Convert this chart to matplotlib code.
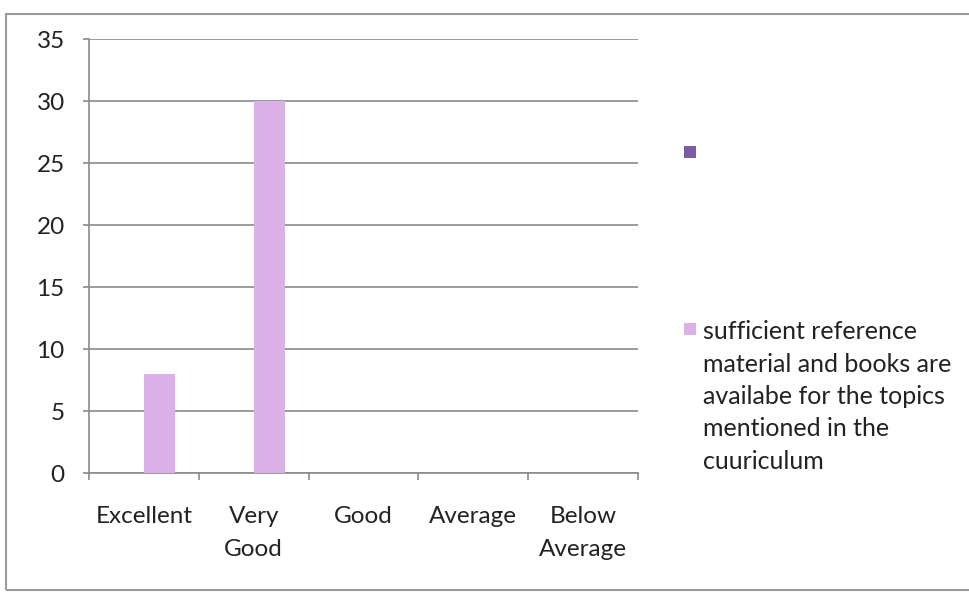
import matplotlib
matplotlib.use("Agg")
import matplotlib.pyplot as plt
from matplotlib.patches import Rectangle
import numpy as np

categories = ["Excellent", "Very\nGood", "Good", "Average", "Below\nAverage"]
series1_name = ""
series1_values = [0, 0, 0, 0, 0]
series2_name = ("sufficient reference\nmaterial and books are\navailabe for the topics\n"
                "mentioned in the\ncuuriculum")
series2_values = [8, 30, 0, 0, 0]
yticks = [0, 5, 10, 15, 20, 25, 30, 35]

plt.rcParams['font.family'] = ['Lato', 'DejaVu Sans']
FS = 17.5
LFS = 18
TXT = "#222222"
GRID = "#8a8a8a"
C1 = "#7b5aa6"
C2 = "#dbb0e6"

fig = plt.figure(figsize=(9.69, 5.92), dpi=100)
W, H = 969, 592
ax = fig.add_axes([89 / W, 1 - 473 / H, (638 - 89) / W, (473 - 39) / H])

x = np.arange(len(categories))
w = 1 / 3.5
ax.bar(x - w / 2, series1_values, width=w, color=C1, label=series1_name, zorder=3)
ax.bar(x + w / 2, series2_values, width=w, color=C2, label=series2_name, zorder=3)

ax.set_xlim(-0.5, len(categories) - 0.5)
ax.set_ylim(0, 35)
ax.set_yticks(yticks)
ax.set_yticklabels([str(v) for v in yticks], fontsize=FS, color=TXT)
ax.yaxis.grid(True, color=GRID, linewidth=1.2, zorder=0)
ax.set_axisbelow(True)

ax.set_xticks(x)
ax.set_xticklabels(categories, fontsize=FS, color=TXT, va='top', linespacing=1.68)
ax.set_xticks(np.arange(-0.5, len(categories)), minor=True)
ax.tick_params(axis='x', which='major', length=0, pad=24)
ax.tick_params(axis='x', which='minor', length=5, color=GRID, width=1.2)
ax.tick_params(axis='y', length=4.5, color=GRID, width=1.2, pad=13)

for s in ['top', 'right']:
    ax.spines[s].set_visible(False)
for s in ['left', 'bottom']:
    ax.spines[s].set_color(GRID)
    ax.spines[s].set_linewidth(1.2)

# legend drawn manually to mimic spreadsheet layout
handles = [(C1, series1_name, 152), (C2, series2_name, 329)]
for col, lab, ypix in handles:
    fig.patches.append(Rectangle((684 / W, 1 - (ypix + 6) / H), 12 / W, 12 / H,
                                 transform=fig.transFigure, facecolor=col,
                                 edgecolor='none'))
    if lab:
        fig.text(703 / W, 1 - (ypix - 9) / H, lab, fontsize=LFS, color=TXT,
                 va='top', ha='left', linespacing=1.5)

# outer chart border
fig.patches.append(Rectangle((6 / W, 1 - 590 / H), 1.0, (590 - 14) / H,
                             transform=fig.transFigure, facecolor='none',
                             edgecolor="#9a9a9a", linewidth=1.5))

fig.savefig("out.png", dpi=100)
